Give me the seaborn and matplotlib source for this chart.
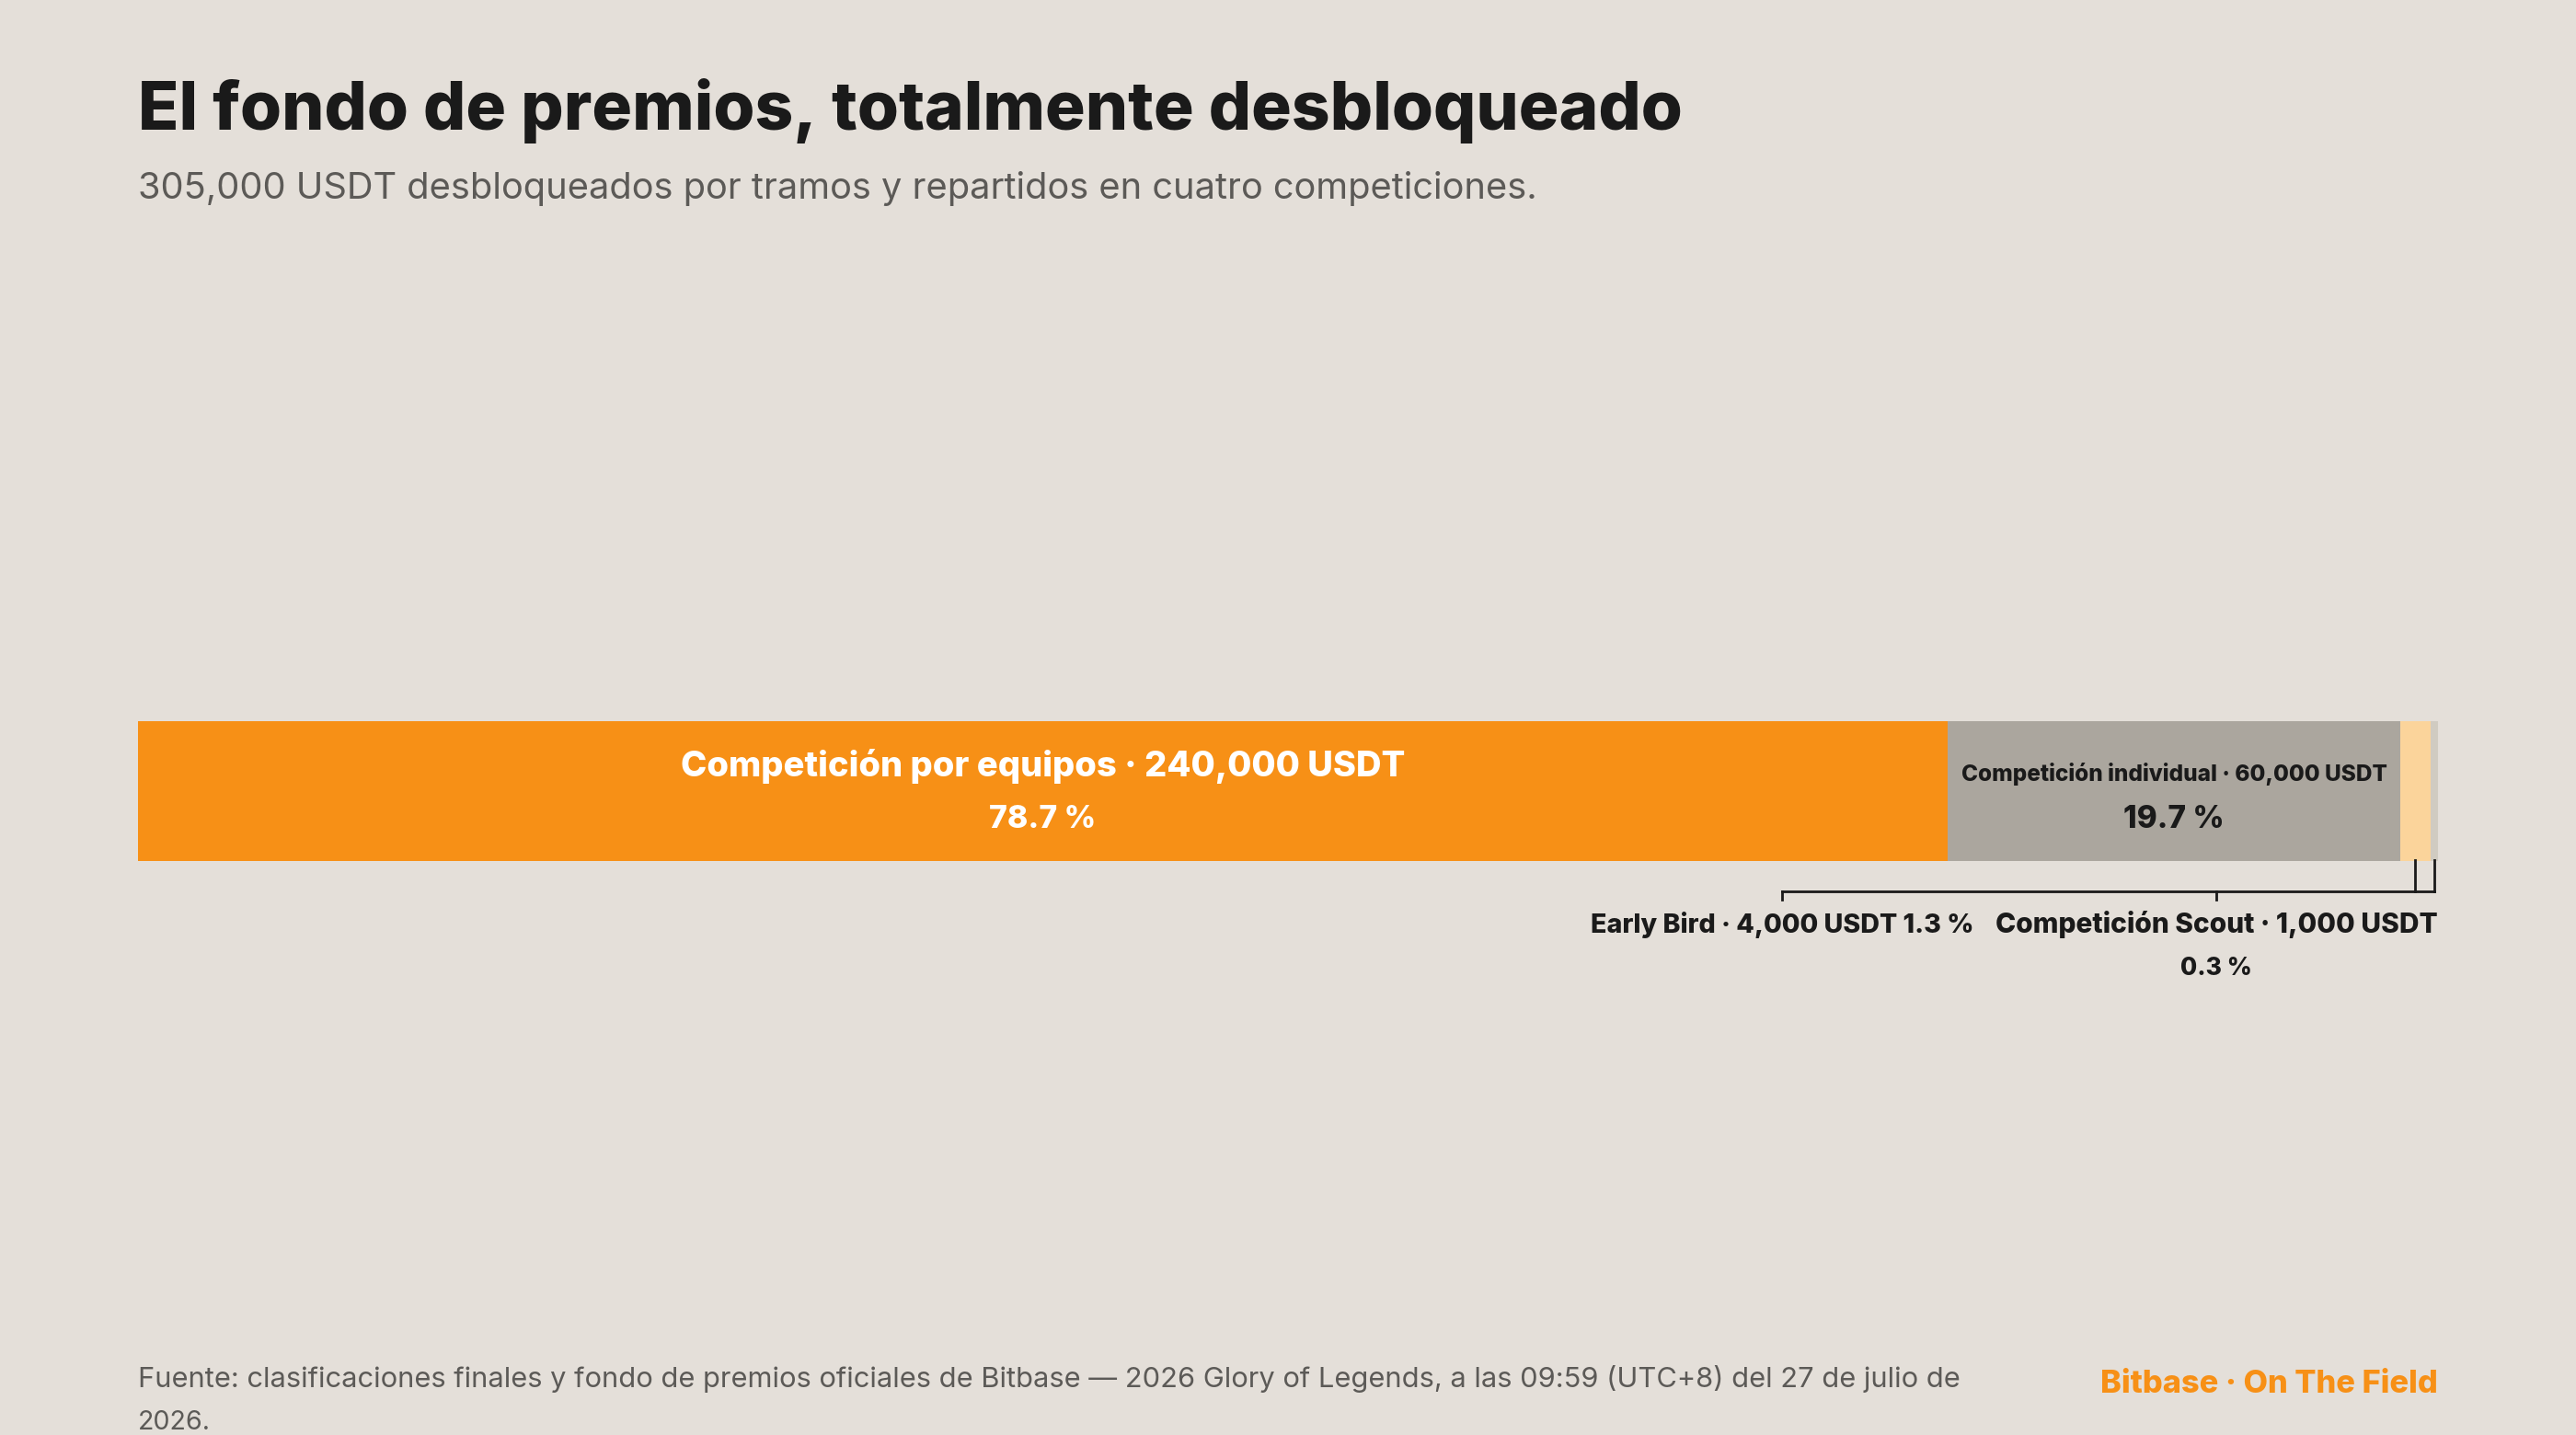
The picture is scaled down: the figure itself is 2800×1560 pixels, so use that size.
import matplotlib
matplotlib.use("Agg")
import matplotlib.pyplot as plt
import pandas as pd
import seaborn as sns

W, H, DPI = 2800, 1560, 200
BG = "#e4dfd9"; INK = "#1a1a1a"; MUTED = "#5c5a57"; ORANGE = "#f79016"

categories = ["Competición por equipos", "Competición individual", "Early Bird", "Competición Scout"]
values = [240000, 60000, 4000, 1000]
shares = ["78.7 %", "19.7 %", "1.3 %", "0.3 %"]
colors = [ORANGE, "#aba69e", "#fbd49b", "#d0cbc1"]
title = "El fondo de premios, totalmente desbloqueado"
subtitle = "305,000 USDT desbloqueados por tramos y repartidos en cuatro competiciones."
source = ["Fuente: clasificaciones finales y fondo de premios oficiales de Bitbase — 2026 Glory of Legends, a las 09:59 (UTC+8) del 27 de julio de", "2026."]
brand = "Bitbase · On The Field"

sns.set_theme(style="white")
plt.rcParams["font.family"] = ["Inter", "DejaVu Sans"]
fig = plt.figure(figsize=(W / DPI, H / DPI), dpi=DPI, facecolor=BG)
ax = fig.add_axes([150 / W, 1 - 935.5 / H, 2500 / W, 151.5 / H])

df = pd.DataFrame({"cat": categories, "value": values, "row": "Fondo"})
df["left"] = df["value"].cumsum().shift(fill_value=0)
df["mid"] = df["left"] + df["value"] / 2
for r, c in zip(df.itertuples(), colors):
    sns.barplot(x=[r.value], y=[r.row], left=r.left, width=1, color=c, saturation=1,
                linewidth=0, ax=ax)
ax.set_xlim(0, sum(values)); ax.set_ylim(0.5, -0.5)
ax.axis("off")

rend = fig.canvas.get_renderer()
def T(x, y, s, width, color=INK, weight="heavy", ha="left"):
    """Text at pixel position (baseline), fitted to the reference's pixel width."""
    t = fig.text(x / W, 1 - y / H, s, color=color, fontweight=weight, ha=ha, va="baseline",
                 fontsize=14)
    t.set_fontsize(t.get_fontsize() * width / t.get_window_extent(rend).width)
    return t

T(150, 140.5, title, 1681)
T(150, 215.5, subtitle, 1523, color=MUTED, weight="normal")
cx0, cx1 = df["mid"][0], df["mid"][1]
to_px = lambda v: 150 + 2500 * v / sum(values)
T(to_px(cx0), 843.5, f"{categories[0]} · 240,000 USDT", 788, color="white", ha="center")
T(to_px(cx0), 900.5, shares[0], 116, color="white", ha="center")
T(to_px(cx1), 849.5, f"{categories[1]} · 60,000 USDT", 463, ha="center")
T(to_px(cx1), 900.5, shares[1], 110, ha="center")

# leader lines
xeb, xsc = to_px(df["mid"][2]), to_px(df["mid"][3])
lx_eb, lx_sc = 1937, 2409
def L(xs, ys):
    fig.add_artist(plt.Line2D([x / W for x in xs], [1 - y / H for y in ys], color=INK, lw=2.8 * 72 / DPI,
                              solid_capstyle="projecting", solid_joinstyle="miter"))
L([xeb, xeb], [935, 968.5]); L([xsc, xsc], [935, 968.5])
L([lx_eb, xsc], [968.5, 968.5])
L([lx_eb, lx_eb], [968.5, 978]); L([lx_sc, lx_sc], [968.5, 978])

T(lx_eb, 1014.5, f"{categories[2]} · 4,000 USDT {shares[2]}", 418, ha="center")
T(lx_sc, 1014.5, f"{categories[3]} · 1,000 USDT", 481, ha="center")
T(lx_sc, 1060.5, shares[3], 78, ha="center")

T(150, 1508.5, source[0], 1984, color=MUTED, weight="normal")
T(150, 1554.5, source[1], 79, color=MUTED, weight="normal")
T(2650, 1513.5, brand, 367, color=ORANGE, ha="right")

fig.savefig("out.png", dpi=DPI, facecolor=BG)
